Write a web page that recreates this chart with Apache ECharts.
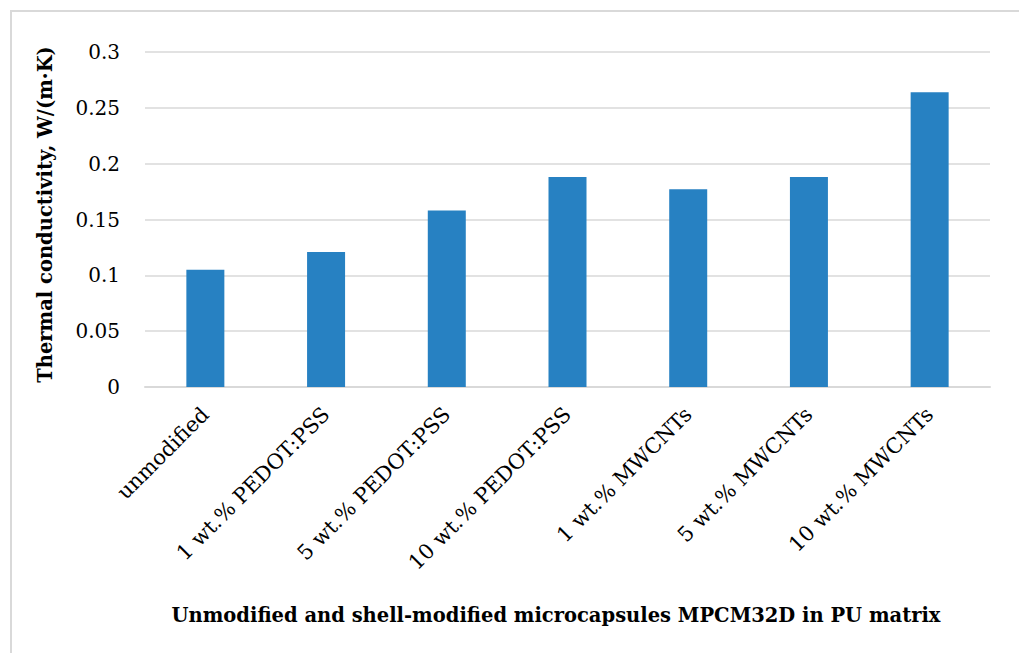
<!DOCTYPE html>
<html>
<head>
<meta charset="utf-8">
<script src="https://cdn.jsdelivr.net/npm/echarts@6/dist/echarts.min.js"></script>
<style>
html,body{margin:0;padding:0;background:#fff;overflow:hidden;width:1019px;height:653px;}
#frame{position:absolute;left:10px;top:10px;width:1009px;height:643px;border-left:2px solid #d9d9d9;border-top:2px solid #d9d9d9;box-sizing:border-box;}
#chart{position:absolute;left:0;top:0;width:1019px;height:653px;}
</style>
</head>
<body>
<div id="frame"></div>
<div id="chart"></div>
<script>
const categories = ["unmodified","1 wt.% PEDOT:PSS","5 wt.% PEDOT:PSS","10 wt.% PEDOT:PSS","1 wt.% MWCNTs","5 wt.% MWCNTs","10 wt.% MWCNTs"];
const values = [0.105, 0.121, 0.158, 0.188, 0.177, 0.188, 0.264];
const yTicks = {min:0, max:0.3, interval:0.05};
const yTitle = "Thermal conductivity, W/(m·K)";
const xTitle = "Unmodified and shell-modified microcapsules MPCM32D in PU matrix";

const font = "DejaVu Serif";
const chart = echarts.init(document.getElementById('chart'), null, {renderer:'svg'});
chart.setOption({
  animation:false,
  backgroundColor:'transparent',
  grid:{left:145, right:29, top:52, bottom:266, containLabel:false},
  xAxis:{
    type:'category', data:categories,
    axisLine:{lineStyle:{color:'#d9d9d9', width:2}},
    axisTick:{show:false},
    axisLabel:{rotate:45, interval:0, margin:24, color:'#000', fontFamily:font, fontSize:21}
  },
  yAxis:{
    type:'value', min:yTicks.min, max:yTicks.max, interval:yTicks.interval,
    axisLine:{show:false}, axisTick:{show:false},
    splitLine:{lineStyle:{color:'#d9d9d9', width:1.5}},
    axisLabel:{margin:25, color:'#000', fontFamily:font, fontSize:20,
      formatter:v=>String(+v.toFixed(2))},
    name:yTitle, nameLocation:'middle', nameGap:90, nameRotate:90,
    nameTextStyle:{color:'#000', fontFamily:font, fontSize:19.5, fontWeight:'bold', padding:[0,0,0,10]}
  },
  graphic:[{
    type:'text', x:556, y:605,
    style:{text:xTitle, fill:'#000', font:"bold 19.5px " + font, textAlign:'center', textVerticalAlign:'top'}
  }],
  series:[{
    type:'bar', data:values, barWidth:38,
    itemStyle:{color:'#2781c2'}
  }]
});
</script>
</body>
</html>
